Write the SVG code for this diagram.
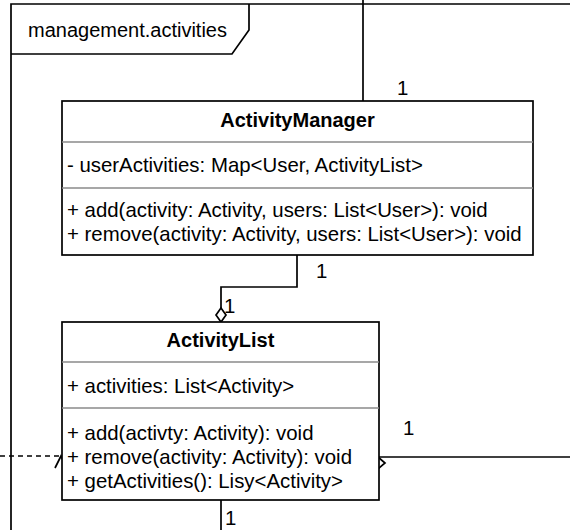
<svg xmlns="http://www.w3.org/2000/svg" width="570" height="530" viewBox="0 0 570 530">
<style>
text{font-family:"Liberation Sans",Arial,sans-serif;font-size:20.4px;fill:#000}
.t{font-size:20px;font-weight:bold;text-anchor:middle}
.box{fill:#fff;stroke:#000;stroke-width:1.7}
.sep{stroke:#8a8a8a;stroke-width:1.7}
.ln{fill:none;stroke:#000;stroke-width:1.7}
</style>
<rect width="570" height="530" fill="#fff"/>
<g id="package">
<path class="ln" d="M11,531 V4 H571"/>
<path class="ln" d="M11,54 H232 L249,30 V4"/>
<text x="28" y="37" style="font-size:20px">management.activities</text>
</g>
<g id="connectors">
<path class="ln" d="M363,0 V101"/>
<path class="ln" d="M297,255 V287 H221 V308"/>
<path d="M221,308 L226,315 L221,322 L216,315 Z" fill="#fff" stroke="#000" stroke-width="1.7"/>
<path class="ln" d="M379,457 H571"/>
<path d="M378,457 L385,463 L378,469 L371,463 Z" fill="#fff" stroke="#000" stroke-width="1.7"/>
<path class="ln" d="M0,456 H61" stroke-dasharray="5 4"/>
<path class="ln" d="M55,468 L61,456 L67,468"/>
<path class="ln" d="M221,500 V531"/>
<text x="397" y="95">1</text>
<text x="316" y="278">1</text>
<text x="224" y="313">1</text>
<text x="403" y="435">1</text>
<text x="225" y="525">1</text>
</g>
<g id="ActivityManager">
<rect class="box" x="62" y="101" width="471" height="154"/>
<line class="sep" x1="62" y1="142" x2="533" y2="142"/>
<line class="sep" x1="62" y1="188" x2="533" y2="188"/>
<text class="t" x="297.5" y="127">ActivityManager</text>
<text x="67" y="172">- userActivities: Map&lt;User, ActivityList&gt;</text>
<text x="67" y="217">+ add(activity: Activity, users: List&lt;User&gt;): void</text>
<text x="67" y="241">+ remove(activity: Activity, users: List&lt;User&gt;): void</text>
</g>
<g id="ActivityList">
<rect class="box" x="62" y="322" width="317" height="178"/>
<line class="sep" x1="62" y1="362" x2="379" y2="362"/>
<line class="sep" x1="62" y1="408" x2="379" y2="408"/>
<text class="t" x="220.5" y="347">ActivityList</text>
<text x="67" y="393">+ activities: List&lt;Activity&gt;</text>
<text x="67" y="440">+ add(activty: Activity): void</text>
<text x="67" y="464">+ remove(activity: Activity): void</text>
<text x="67" y="488">+ getActivities(): Lisy&lt;Activity&gt;</text>
</g>
</svg>
